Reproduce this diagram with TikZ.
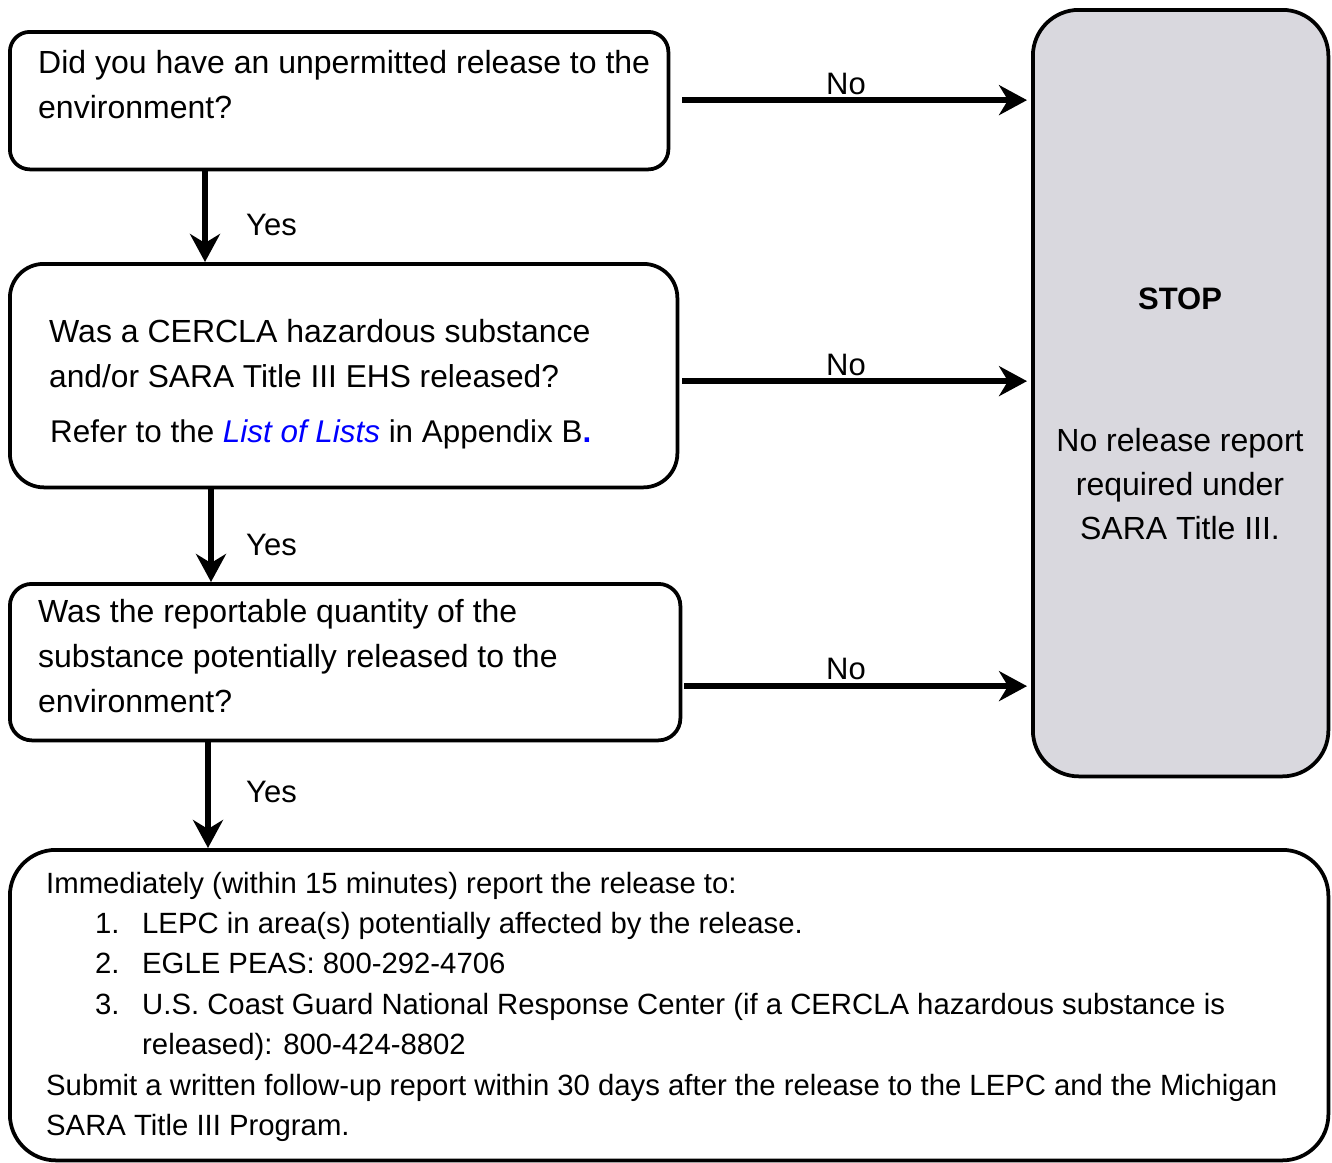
\documentclass[tikz,border=0pt]{standalone}
\usepackage{fontspec}
\setmainfont{Liberation Sans}
\usetikzlibrary{arrows.meta}
\definecolor{stopgray}{HTML}{D9D8DE}
\definecolor{linkblue}{HTML}{0000FF}
\begin{document}
\begin{tikzpicture}[x=1pt,y=-1pt,
  box/.style={draw, line width=3.75pt, inner sep=0pt, anchor=north west},
  arr/.style={line width=5.5pt, -{Stealth[length=28pt,width=30pt,inset=9pt]}},
  qt/.style={anchor=base west, inner sep=0pt, font=\fontsize{32}{38}\selectfont},
  lt/.style={anchor=base west, inner sep=0pt, font=\fontsize{29.3}{36}\selectfont},
  st/.style={anchor=base, inner sep=0pt, font=\fontsize{32}{38}\selectfont},
  lab/.style={anchor=base, inner sep=0pt, font=\fontsize{31}{36}\selectfont}]
\useasboundingbox (0,0) rectangle (1332,1162);

% boxes
\node[box, rounded corners=20pt, minimum width=658.5pt, minimum height=137.5pt] (b1) at (8,30) {};
\node[box, rounded corners=34pt, minimum width=667.5pt, minimum height=223.5pt] (b2) at (8,262) {};
\node[box, rounded corners=22pt, minimum width=670.5pt, minimum height=156.5pt] (b3) at (8,582) {};
\node[box, fill=stopgray, rounded corners=46pt, minimum width=295.5pt, minimum height=766.5pt] (stop) at (1031,8) {};
\node[box, rounded corners=46pt, minimum width=1318.5pt, minimum height=310.5pt] (b4) at (8,848) {};

% box 1 text
\node[qt] (t11) at (38,73) {Did you have an unpermitted release to the};
\node[qt] (t12) at (38,118) {environment?};

% box 2 text
\node[qt] (t21) at (49,342) {Was a CERCLA hazardous substance};
\node[qt, font=\fontsize{31.7}{38}\selectfont] (t22) at (49,387) {and/or SARA Title III EHS released?};
\node[qt, font=\fontsize{31.4}{38}\selectfont] (t23) at (50,442) {Refer to the {\color{linkblue}\itshape List of Lists} in Appendix B{\color{linkblue}\bfseries .}};

% box 3 text
\node[qt] (t31) at (38,622) {Was the reportable quantity of the};
\node[qt] (t32) at (38,667) {substance potentially released to the};
\node[qt] (t33) at (38,712) {environment?};

% stop text
\node[st, font=\fontsize{31}{38}\selectfont\bfseries] (s0) at (1180,309) {STOP};
\node[st] (s1) at (1180,451) {No release report};
\node[st] (s2) at (1180,495) {required under};
\node[st] (s3) at (1180,539) {SARA Title III.};

% bottom box text
\node[lt] (l1) at (46,893) {Immediately (within 15 minutes) report the release to:};
\node[lt] (n1) at (95,933) {1.};
\node[lt] (l2) at (142,933) {LEPC in area(s) potentially affected by the release.};
\node[lt] (n2) at (95,973) {2.};
\node[lt] (l3) at (142,973) {EGLE PEAS: 800-292-4706};
\node[lt] (n3) at (95,1014) {3.};
\node[lt] (l4) at (142,1014) {U.S. Coast Guard National Response Center (if a CERCLA hazardous substance is};
\node[lt] (l5) at (142,1054) {released): 800-424-8802};
\node[lt] (l6) at (46,1095) {Submit a written follow-up report within 30 days after the release to the LEPC and the Michigan};
\node[lt] (l7) at (46,1135) {SARA Title III Program.};

% No arrows
\coordinate (a1) at ([xshift=12pt,yshift=0.5pt]b1.east);
\coordinate (a2) at ([xshift=3pt,yshift=-5.5pt]b2.east);
\coordinate (a3) at ([xshift=2pt,yshift=-24pt]b3.east);
\coordinate (e1) at (stop.west |- a1);
\coordinate (e2) at (stop.west |- a2);
\coordinate (e3) at (stop.west |- a3);
\draw[arr] (a1) -- ([xshift=-4pt]e1);
\draw[arr] (a2) -- ([xshift=-4pt]e2);
\draw[arr] (a3) -- ([xshift=-4pt]e3);
\node[lab] (no1) at (846,94) {No};
\node[lab] (no2) at (846,375) {No};
\node[lab] (no3) at (846,679) {No};

% Yes arrows
\coordinate (y1s) at ([xshift=197pt]b1.south west);
\coordinate (y2s) at ([xshift=203pt]b2.south west);
\coordinate (y3s) at ([xshift=200pt]b3.south west);
\draw[arr] (y1s) -- (y1s |- b2.north);
\draw[arr] (y2s) -- (y2s |- b3.north);
\draw[arr] (y3s) -- (y3s |- b4.north);
\node[lab, anchor=base west] (y1) at (246,235) {Yes};
\node[lab, anchor=base west] (y2) at (246,555) {Yes};
\node[lab, anchor=base west] (y3) at (246,802) {Yes};
\end{tikzpicture}
\end{document}
